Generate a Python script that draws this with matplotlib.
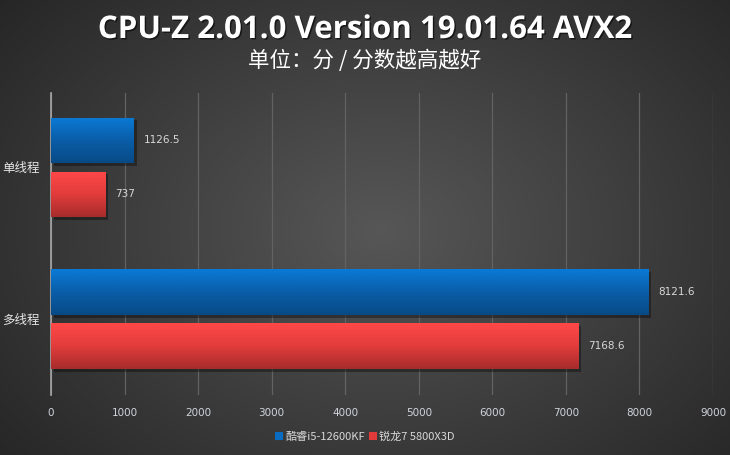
import numpy as np
import matplotlib
matplotlib.use('Agg')
import matplotlib.pyplot as plt
from matplotlib.colors import LinearSegmentedColormap
from matplotlib.patches import Patch
import matplotlib.patheffects as pe

plt.rcParams['font.family'] = ['Noto Sans CJK SC', 'DejaVu Sans']

# data
categories = ['单线程', '多线程']
series_names = ['酷睿i5-12600KF', '锐龙7 5800X3D']
intel_vals = [1126.5, 8121.6]
amd_vals = [737, 7168.6]
value_labels = [['1126.5', '8121.6'], ['737', '7168.6']]
x_ticks = [0, 1000, 2000, 3000, 4000, 5000, 6000, 7000, 8000, 9000]

fig = plt.figure(figsize=(7.3, 4.55), dpi=100)

# background radial gradient
bg = fig.add_axes([0, 0, 1, 1], zorder=-10)
yy, xx = np.mgrid[0:455, 0:730]
r = np.sqrt(((xx - 380) / 520.) ** 2 + ((yy - 230) / 380.) ** 2)
shade = np.clip(0.34 - 0.20 * r, 0.13, 0.34)
bg.imshow(np.dstack([shade, shade, shade]), aspect='auto', extent=[0, 1, 0, 1])
bg.set_axis_off()

ax = fig.add_axes([51 / 730, 1 - 395 / 455, 662 / 730, 302 / 455])
ax.patch.set_alpha(0)

blue_cmap = LinearSegmentedColormap.from_list('b', ['#0a7ad6', '#0a5ea8', '#084a86'])
red_cmap = LinearSegmentedColormap.from_list('r', ['#ff4848', '#e23c3c', '#a82c2c'])

ypos = np.arange(len(categories))
h = 0.30
off = 0.178
shadow = [pe.SimplePatchShadow(offset=(2, -2), shadow_rgbFace='black', alpha=0.35), pe.Normal()]
grad = np.linspace(0, 1, 64).reshape(-1, 1)

for vals, dy, cmap in [(intel_vals, -off, blue_cmap), (amd_vals, off, red_cmap)]:
    bars = ax.barh(ypos + dy, vals, height=h, color='none', edgecolor='none', zorder=3)
    for b in bars:
        b.set_facecolor((0, 0, 0, 0.01))
        b.set_path_effects(shadow)
        x0, y0, w, hh = b.get_x(), b.get_y(), b.get_width(), b.get_height()
        im = ax.imshow(grad, cmap=cmap, aspect='auto', extent=[x0, x0 + w, y0 + hh, y0],
                       zorder=4, interpolation='bilinear')
        im.set_clip_path(b)

for vals, dy, labs in [(intel_vals, -off, value_labels[0]), (amd_vals, off, value_labels[1])]:
    for i, v in enumerate(vals):
        ax.text(v + 130, ypos[i] + dy, labs[i], color='#d8d8d8', fontsize=7.5,
                va='center', ha='left', family=['DejaVu Sans'])

ax.set_xlim(0, 9000)
ax.set_ylim(1.5, -0.49)
ax.set_xticks(x_ticks)
ax.set_xticklabels([str(t) for t in x_ticks], color='#cfd4dc', fontsize=7.5, family=['DejaVu Sans'])
ax.set_yticks(ypos)
ax.set_yticklabels(categories, color='#e6e6e6', fontsize=9)
ax.tick_params(axis='both', length=0)
ax.tick_params(axis='x', pad=9)
ax.tick_params(axis='y', pad=8)
ax.grid(axis='x', color='#626262', linewidth=0.9, zorder=0)
for s in ['top', 'right', 'bottom']:
    ax.spines[s].set_visible(False)
ax.spines['left'].set_color('#a8a8a8')
ax.spines['left'].set_linewidth(1.2)

fig.text(0.5, 1 - 30 / 455, 'CPU-Z 2.01.0 Version 19.01.64 AVX2', ha='center', va='center',
         color='white', fontsize=22.5, fontweight='bold', family=['Open Sans'],
         path_effects=[pe.withSimplePatchShadow(offset=(1, -1), shadow_rgbFace='black', alpha=0.6)])
fig.text(0.5, 1 - 61 / 455, '单位：分 / 分数越高越好', ha='center', va='center',
         color='white', fontsize=15.5)

handles = [Patch(facecolor='#0a6cc0'), Patch(facecolor='#e03a3a')]
fig.legend(handles, series_names, loc='center', bbox_to_anchor=(0.5, 1 - 437 / 455), ncol=2,
           frameon=False, fontsize=8, labelcolor='#d8d8d8', handlelength=0.7, handleheight=0.7,
           handletextpad=0.2, columnspacing=0.4)

fig.savefig('out.png', dpi=100)
